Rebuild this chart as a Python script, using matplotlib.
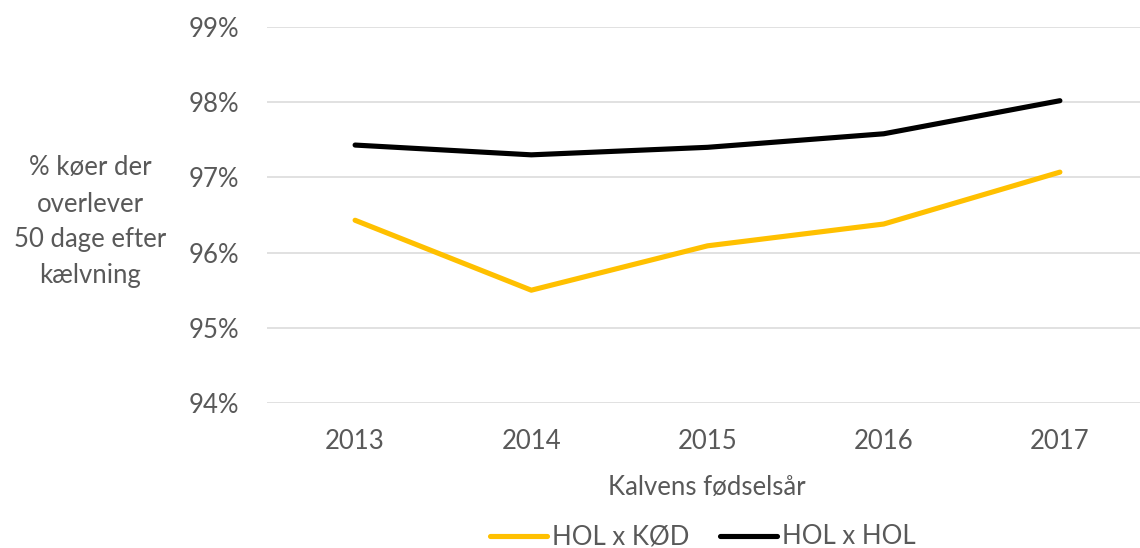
import matplotlib
matplotlib.use('Agg')
import matplotlib.pyplot as plt
import numpy as np

# data
aar = ['2013', '2014', '2015', '2016', '2017']
hol_kod = [96.43, 95.50, 96.09, 96.38, 97.07]
hol_hol = [97.43, 97.30, 97.40, 97.58, 98.02]
y_ticks = [94, 95, 96, 97, 98, 99]

plt.rcParams['font.family'] = ['Lato', 'DejaVu Sans']
tekst = '#595959'
gul = '#FFC000'

fig = plt.figure(figsize=(11.4, 5.48), dpi=100)
# plot area in figure fractions (right edge runs off the image, as in the original)
ax = fig.add_axes([267/1140, 1-403/548, 881/1140, 376/548])

x = np.arange(len(aar))
ax.plot(x, hol_kod, color=gul, lw=3.7, solid_capstyle='round', label='HOL x KØD')
ax.plot(x, hol_hol, color='black', lw=3.7, solid_capstyle='round', label='HOL x HOL')

ax.set_xlim(-0.5, len(aar) - 0.5)
ax.set_ylim(94, 99)
ax.set_yticks(y_ticks)
ax.set_yticklabels([f'{v}%' for v in y_ticks])
ax.set_xticks(x)
ax.set_xticklabels(aar)
ax.tick_params(axis='both', length=0, labelsize=18.5, colors=tekst)
ax.tick_params(axis='y', pad=20)
ax.tick_params(axis='x', pad=19)

ax.grid(axis='y', color='#d9d9d9', lw=1.1)
ax.set_axisbelow(True)
for s in ax.spines.values():
    s.set_visible(False)

fig.text(90/1140, 1-222/548, '% køer der\noverlever\n50 dage efter\nkælvning',
         ha='center', va='center', fontsize=18.5, color=tekst, linespacing=1.55)
fig.text(707/1140, 1-487/548, 'Kalvens fødselsår', ha='center', va='center',
         fontsize=18.5, color=tekst)

leg = fig.legend(loc='center', bbox_to_anchor=(703/1140, 1-537/548), ncol=2,
                 frameon=False, fontsize=18.5, handlelength=2.2, handletextpad=0.2,
                 columnspacing=1.2, borderaxespad=0, borderpad=0)
for t in leg.get_texts():
    t.set_color(tekst)

fig.savefig('out.png', dpi=100)
